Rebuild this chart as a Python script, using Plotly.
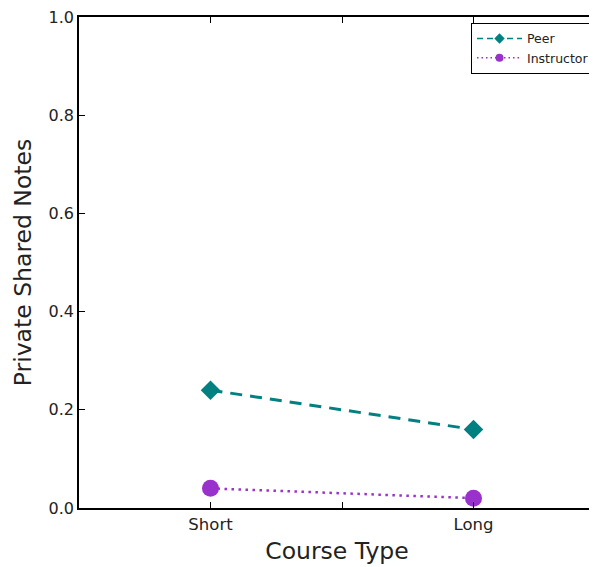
import plotly.graph_objects as go

categories = ["Short", "Long"]
cat_pos = [0, 1]
peer = [0.24, 0.16]
instructor = [0.04, 0.02]
y_ticks = [0.0, 0.2, 0.4, 0.6, 0.8, 1.0]

TEAL = "#008080"
PURPLE = "#9932CC"

fig = go.Figure()
fig.add_trace(go.Scatter(
    x=cat_pos, y=peer, name="Peer", mode="lines+markers", showlegend=False,
    line=dict(color=TEAL, width=3, dash="12px,8px"),
    marker=dict(symbol="diamond", size=15, color=TEAL),
))
fig.add_trace(go.Scatter(
    x=cat_pos, y=instructor, name="Instructor", mode="lines+markers", showlegend=False,
    line=dict(color=PURPLE, width=2.5, dash="2.5px,4.5px"),
    marker=dict(symbol="circle", size=17, color=PURPLE),
))
# legend-only entries with smaller symbols
fig.add_trace(go.Scatter(
    x=[None], y=[None], name="Peer", mode="lines+markers",
    line=dict(color=TEAL, width=1.5, dash="6px,4px"),
    marker=dict(symbol="diamond", size=8, color=TEAL),
))
fig.add_trace(go.Scatter(
    x=[None], y=[None], name="Instructor", mode="lines+markers",
    line=dict(color=PURPLE, width=1.5, dash="1.5px,3px"),
    marker=dict(symbol="circle", size=8, color=PURPLE),
))

fig.update_layout(
    width=589, height=559,
    margin=dict(l=71, r=0, t=9, b=59),
    plot_bgcolor="white", paper_bgcolor="white",
    font=dict(family="DejaVu Sans", size=16, color="#222"),
    showlegend=True,
    legend=dict(
        x=1.0, y=0.988, xanchor="right", yanchor="top",
        bordercolor="black", borderwidth=1, bgcolor="white",
        font=dict(size=12.5, color="#222"),
        tracegroupgap=0, itemwidth=45,
    ),
)
fig.update_xaxes(
    range=[-0.5, 1.462],
    tickvals=[0, 0.5, 1], ticktext=[categories[0], "", categories[1]],
    tickfont=dict(size=16.5),
    ticks="inside", ticklen=6, tickcolor="black", tickwidth=1,
    showline=True, linecolor="black", linewidth=1.5, mirror="ticks",
    showgrid=False, zeroline=False, ticklabeloverflow="allow",
    title=dict(text="Course Type", font=dict(size=23.5, color="#222"), standoff=10),
)
fig.update_yaxes(
    range=[0, 1],
    tickvals=y_ticks, ticktext=[f"{v:.1f}" for v in y_ticks],
    tickfont=dict(size=16),
    ticks="inside", ticklen=6, tickcolor="black", tickwidth=1,
    showline=True, linecolor="black", linewidth=1.5, mirror="ticks",
    showgrid=False, zeroline=False, ticklabeloverflow="allow",
    title=dict(text="Private Shared Notes", font=dict(size=23.5, color="#222"), standoff=10),
)

fig.write_html("out.html")
